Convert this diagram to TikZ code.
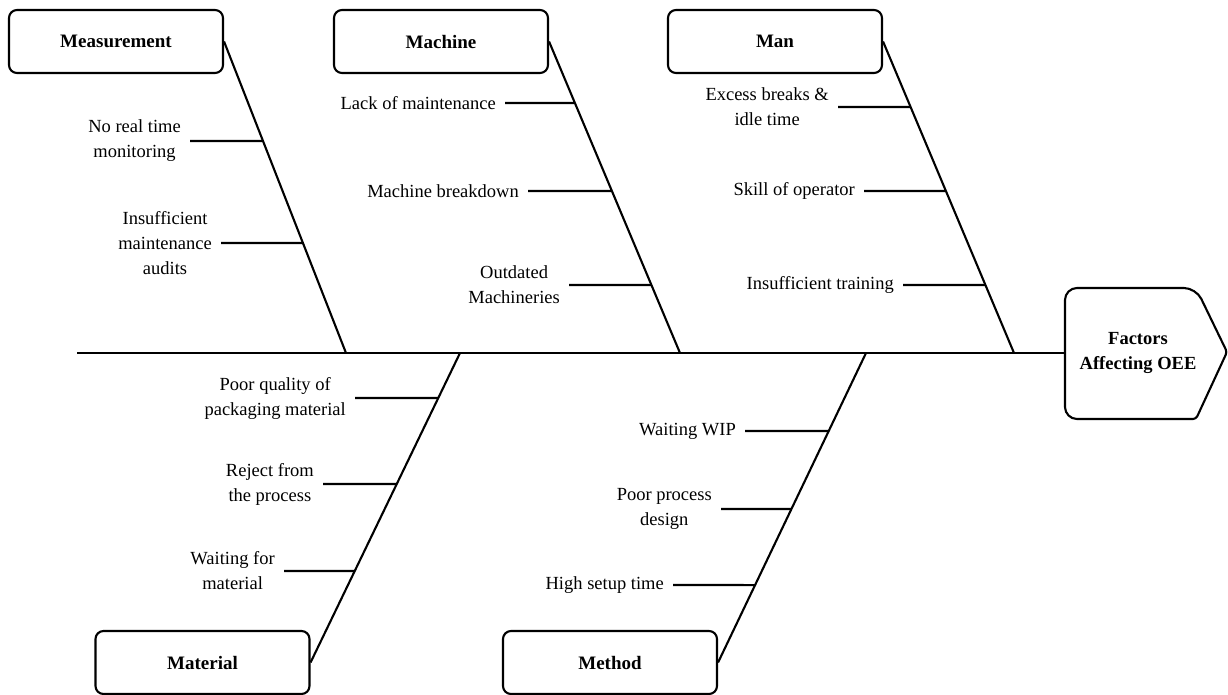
\documentclass[tikz,border=0pt]{standalone}
\usepackage{fontspec}
\setmainfont{Liberation Serif}
\begin{document}
\begin{tikzpicture}[x=1pt,y=-1pt,
  bone/.style={line width=2.1pt},
  catbox/.style={draw,line width=2.1pt,rounded corners=8pt,minimum width=214pt,minimum height=63pt,font=\fontsize{19}{25}\selectfont\bfseries,inner sep=0pt},
  cause/.style={font=\fontsize{18.5}{25}\selectfont,align=center,anchor=east,inner xsep=9pt,inner ysep=0pt}
]
\useasboundingbox (0,0) rectangle (1228,694);
% category boxes
\node[catbox] (meas) at (116,41.5) {Measurement};
\node[catbox] (mach) at (441,41.5) {Machine};
\node[catbox] (man) at (775,41.5) {Man};
\node[catbox] (mat) at (202.5,662.5) {Material};
\node[catbox] (meth) at (610,662.5) {Method};
% head
\draw[line width=2.1pt,line join=round,rounded corners=12pt] (1130,288) -- (1196,288) [rounded corners=3pt] -- (1227,352) -- (1196,419) [rounded corners=12pt] -- (1065,419) -- (1065,288) -- cycle;
\node[font=\fontsize{18.5}{25}\selectfont\bfseries,align=center] (head) at (1138,353) {Factors\\Affecting OEE};
\coordinate (headw) at (1065,353);
\coordinate (tail) at (77,353);
% spine
\draw[bone] (tail) -- (headw);
% bone ends
\coordinate (measb) at (346,353);
\coordinate (machb) at (680,353);
\coordinate (manb) at (1014,353);
\coordinate (matb) at (460,353);
\coordinate (methb) at (866,353);
\draw[bone] (meas.east) -- (measb);
\draw[bone] (mach.east) -- (machb);
\draw[bone] (man.east) -- (manb);
\draw[bone] (mat.east) -- (matb);
\draw[bone] (meth.east) -- (methb);
% measurement causes
\node[cause] (c1) at (190,141) {No real time\\monitoring};
\node[cause] (c2) at (221,243) {Insufficient\\maintenance\\audits};
\draw[bone] (c1.east) -- (intersection of meas.east--measb and 0,141--10,141);
\draw[bone] (c2.east) -- (intersection of meas.east--measb and 0,243--10,243);
% machine causes
\node[cause] (c3) at (505,103) {Lack of maintenance};
\node[cause] (c4) at (528,191) {Machine breakdown};
\node[cause] (c5) at (569,285) {Outdated\\Machineries};
\draw[bone] (c3.east) -- (intersection of mach.east--machb and 0,103--10,103);
\draw[bone] (c4.east) -- (intersection of mach.east--machb and 0,191--10,191);
\draw[bone] (c5.east) -- (intersection of mach.east--machb and 0,285--10,285);
% man causes
\node[cause] (c6) at (838,107) {Excess breaks \&\\idle time};
\node[cause] (c7) at (864,191) {Skill of operator};
\node[cause] (c8) at (903,285) {Insufficient training};
\draw[bone] (c6.east) -- (intersection of man.east--manb and 0,107--10,107);
\draw[bone] (c7.east) -- (intersection of man.east--manb and 0,191--10,191);
\draw[bone] (c8.east) -- (intersection of man.east--manb and 0,285--10,285);
% material causes
\node[cause] (c9) at (355,398) {Poor quality of\\packaging material};
\node[cause] (c10) at (323,484) {Reject from\\the process};
\node[cause] (c11) at (284,571) {Waiting for\\material};
\draw[bone] (c9.east) -- (intersection of mat.east--matb and 0,398--10,398);
\draw[bone] (c10.east) -- (intersection of mat.east--matb and 0,484--10,484);
\draw[bone] (c11.east) -- (intersection of mat.east--matb and 0,571--10,571);
% method causes
\node[cause] (c12) at (745,431) {Waiting WIP};
\node[cause] (c13) at (721,509) {Poor process\\design};
\node[cause] (c14) at (673,585) {High setup time};
\draw[bone] (c12.east) -- (intersection of meth.east--methb and 0,431--10,431);
\draw[bone] (c13.east) -- (intersection of meth.east--methb and 0,509--10,509);
\draw[bone] (c14.east) -- (intersection of meth.east--methb and 0,585--10,585);
\end{tikzpicture}
\end{document}
